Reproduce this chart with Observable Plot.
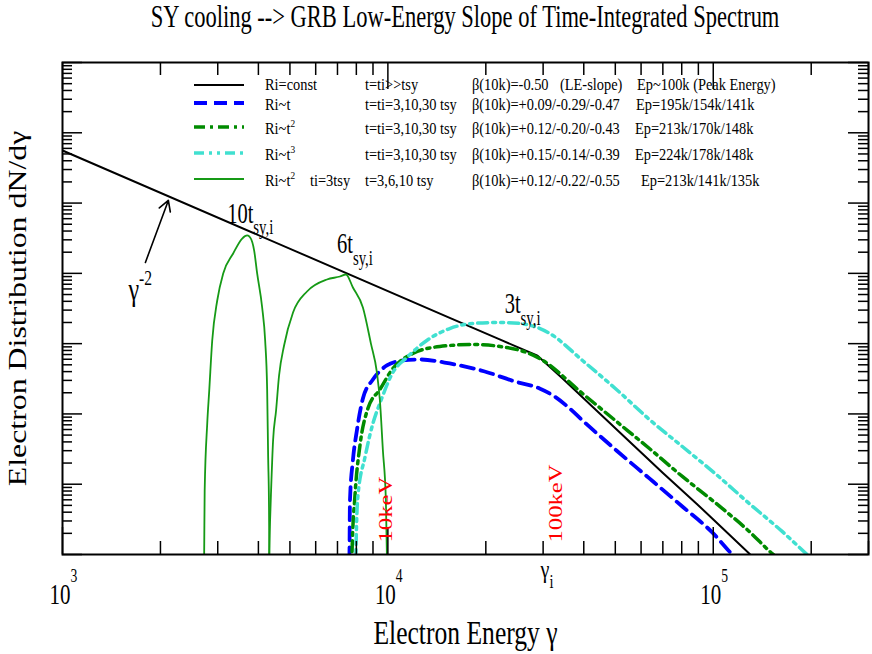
<!DOCTYPE html>
<html><head><meta charset="utf-8">
<script src="https://cdn.jsdelivr.net/npm/d3@7"></script>
<script src="https://cdn.jsdelivr.net/npm/@observablehq/plot@0.6"></script>
<style>
html,body{margin:0;padding:0;background:#fff;}
#chart{width:872px;height:654px;overflow:hidden;}
#chart svg{display:block;}
</style></head><body>
<div id="chart"></div>
<script>
// ---------- data ----------
const titleText = "SY cooling --> GRB Low-Energy Slope of Time-Integrated Spectrum";
const xLabel = "Electron Energy γ";
const yLabel = "Electron Distribution dN/dγ";

const xTicksMajor = [1e3, 1e4, 1e5];
const xTickLabels = ["10^{3}", "10^{4}", "10^{5}"];
const xTicksMinor = [2e3,3e3,4e3,5e3,6e3,7e3,8e3,9e3,2e4,3e4,4e4,5e4,6e4,7e4,8e4,9e4,2e5,3e5];
const yTicksMajor = [1e-7,1e-6,1e-5,1e-4,1e-3,1e-2,1e-1,1];
const yTicksMinor = yTicksMajor.slice(0, -1).flatMap(d => [2,3,4,5,6,7,8,9].map(k => k * d));

// Ri=const (t=ti>>tsy)
const constGamma = [1000, 5370, 15490, 22060, 28840, 34430, 43770, 55250, 69770, 88700, 99300, 129900, 148500];
const constN     = [0.056, 1.94e-3, 2.33e-4, 1.15e-4, 6.73e-5, 3.19e-5, 1.12e-5, 4.06e-6, 1.47e-6, 5.32e-7, 3.26e-7, 1.0e-7, 5.55e-8];
// Ri~t
const blueGamma = [7595, 7620, 7647, 7807, 8031, 8380, 8995, 9930, 11120, 12540, 15490, 19840, 24530, 29260, 32530, 36170, 39650, 50410, 63640, 80340, 99300, 114400, 123600];
const blueN     = [4.3e-8, 1.0e-7, 5.9e-7, 2.18e-6, 5.82e-6, 1.66e-5, 3.09e-5, 4.89e-5, 5.76e-5, 5.95e-5, 5.22e-5, 4.02e-5, 2.90e-5, 2.30e-5, 1.77e-5, 1.20e-5, 8.07e-6, 3.02e-6, 1.21e-6, 4.82e-7, 2.06e-7, 1.0e-7, 6.98e-8];
// Ri~t^2
const greenGamma = [7740, 7757, 7923, 8207, 8684, 9451, 10360, 11930, 14440, 18230, 23170, 26690, 29260, 39650, 50410, 63640, 80340, 102100, 128960, 151700, 171100];
const greenN     = [5.0e-8, 1.03e-7, 6.92e-7, 3.56e-6, 1.20e-5, 2.23e-5, 4.43e-5, 7.24e-5, 9.11e-5, 9.73e-5, 8.82e-5, 7.48e-5, 6.15e-5, 1.95e-5, 7.81e-6, 3.22e-6, 1.29e-6, 5.32e-7, 2.13e-7, 1.03e-7, 6.53e-8];
// Ri~t^3
const cyanGamma = [7960, 7976, 8091, 8501, 8995, 9517, 10360, 11440, 13170, 15490, 18230, 22060, 25410, 28240, 31400, 39650, 50410, 63640, 80340, 102100, 128960, 162800, 194200, 211400];
const cyanN     = [5.0e-8, 1.03e-7, 6.92e-7, 2.40e-6, 7.31e-6, 1.55e-5, 3.89e-5, 6.35e-5, 1.11e-4, 1.64e-4, 1.94e-4, 2.00e-4, 1.94e-4, 1.75e-4, 1.40e-4, 5.76e-5, 2.23e-5, 8.34e-6, 3.44e-6, 1.38e-6, 5.32e-7, 2.13e-7, 1.0e-7, 6.98e-8];
// Ri~t^2, ti=3tsy, t=10 tsy
const t10Gamma = [2720, 2725, 2735, 2785, 2825, 2885, 2989, 3118, 3346, 3566, 3695, 3774, 3882, 3965, 4108, 4196, 4256, 4286, 4312, 4322, 4330];
const t10N     = [5e-8, 1e-7, 8.15e-7, 7.31e-6, 2.16e-5, 1.11e-4, 4.11e-4, 9.96e-4, 1.92e-3, 3.13e-3, 3.46e-3, 3.24e-3, 2.11e-3, 9.96e-4, 3.27e-4, 1.11e-4, 2.16e-5, 2.40e-6, 4.67e-7, 1e-7, 5e-8];
// Ri~t^2, ti=3tsy, t=6 tsy
const t6Gamma = [4305, 4318, 4345, 4376, 4438, 4533, 4630, 4797, 5111, 5643, 6500, 7125, 7433, 7807, 8380, 8870, 9253, 9451, 9654, 9860, 9930, 9950];
const t6N     = [5e-8, 1e-7, 3.05e-7, 8.15e-7, 4.19e-6, 1.12e-5, 3.52e-5, 9.42e-5, 2.77e-4, 5.52e-4, 8.18e-4, 9.02e-4, 9.64e-4, 6.30e-4, 3.27e-4, 1.00e-4, 3.89e-5, 1.55e-5, 3.02e-6, 5.87e-7, 1e-7, 5e-8];

// annotations
const curveLabelText  = ["10t_{sy,i}", "6t_{sy,i}", "3t_{sy,i}"];
const curveLabelGamma = [3207, 6975, 22850];
const curveLabelN     = [5.29e-3, 1.92e-3, 2.69e-4];
const slopeLabel = "γ^{-2}";
const slopeLabelGamma = 1594, slopeLabelN = 4.11e-4;
const arrowFrom = [1798, 1.43e-3], arrowTo = [2115, 1.09e-2];
const kevText  = ["10keV", "100keV"];
const kevGamma = [10290, 34180];
const gammaILabel = "γ_{i}";
const gammaI = 29890;

// legend
const legendNames = ["Ri=const", "Ri~t", "Ri~t^{2}", "Ri~t^{3}", "Ri~t^{2}"];
const legendTi    = ["", "", "", "", "ti=3tsy"];
const legendTimes = ["t=ti>>tsy", "t=ti=3,10,30 tsy", "t=ti=3,10,30 tsy", "t=ti=3,10,30 tsy", "t=3,6,10 tsy"];
const legendBeta  = ["β(10k)=-0.50", "β(10k)=+0.09/-0.29/-0.47", "β(10k)=+0.12/-0.20/-0.43", "β(10k)=+0.15/-0.14/-0.39", "β(10k)=+0.12/-0.22/-0.55"];
const legendNote  = ["(LE-slope)", "", "", "", ""];
const legendEp    = ["Ep~100k (Peak Energy)", "Ep=195k/154k/141k", "Ep=213k/170k/148k", "Ep=224k/178k/148k", "Ep=213k/141k/135k"];

// ---------- styles / layout ----------
const serif = "'Liberation Serif', 'Times New Roman', 'DejaVu Serif', serif";
const styles = [
  {stroke: "black",   width: 2,   dash: null, curve: "linear"},
  {stroke: "#0000ff", width: 3.8, dash: "13,7", curve: "monotone-x"},
  {stroke: "#008b00", width: 3.5, dash: "11,5,3,5", curve: "monotone-x"},
  {stroke: "#40e0d0", width: 3.5, dash: "10,5,3,5,3,5", curve: "monotone-x"},
  {stroke: "#169a16", width: 1.8, dash: null, curve: "monotone-x"}
];
const TITLE_H = 40;
const W = 872, H = 654 - TITLE_H, mT = 22, mB = 100, mL = 62, mR = 4;
const FH = H - mT - mB, FW = W - mL - mR;

const rows = (g, n) => g.map((x, i) => ({g: x, n: n[i]}));
const lineMark = (g, n, s) => Plot.line(rows(g, n), {x: "g", y: "n", stroke: s.stroke, strokeWidth: s.width,
  strokeDasharray: s.dash ?? undefined, curve: s.curve, clip: true});

const plot = Plot.plot({
  width: W, height: H, marginTop: mT, marginBottom: mB, marginLeft: mL, marginRight: mR,
  style: {fontFamily: serif, background: "white", color: "black"},
  x: {type: "log", domain: [1e3, 3e5], axis: null},
  y: {type: "log", domain: [1e-7, 1], axis: null},
  marks: [
    lineMark(constGamma, constN, styles[0]),
    lineMark(blueGamma, blueN, styles[1]),
    lineMark(greenGamma, greenN, styles[2]),
    lineMark(cyanGamma, cyanN, styles[3]),
    lineMark(t10Gamma, t10N, styles[4]),
    lineMark(t6Gamma, t6N, styles[4]),
    // ticks (inward)
    Plot.ruleX(xTicksMinor, {x: d => d, insetTop: FH - 13, stroke: "black", strokeWidth: 1.5}),
    Plot.ruleX(xTicksMajor, {x: d => d, insetTop: FH - 27, stroke: "black", strokeWidth: 1.5}),
    Plot.ruleX(xTicksMinor, {x: d => d, insetBottom: FH - 13, stroke: "black", strokeWidth: 1.5}),
    Plot.ruleX(xTicksMajor, {x: d => d, insetBottom: FH - 27, stroke: "black", strokeWidth: 1.5}),
    Plot.ruleY(yTicksMinor, {y: d => d, insetRight: FW - 10, stroke: "black", strokeWidth: 1.5}),
    Plot.ruleY(yTicksMajor, {y: d => d, insetRight: FW - 20, stroke: "black", strokeWidth: 1.5}),
    Plot.ruleY(yTicksMinor, {y: d => d, insetLeft: FW - 10, stroke: "black", strokeWidth: 1.5}),
    Plot.ruleY(yTicksMajor, {y: d => d, insetLeft: FW - 20, stroke: "black", strokeWidth: 1.5}),
    Plot.frame({stroke: "black", strokeWidth: 2}),
    // tick labels
    Plot.text(xTicksMajor.map((v, i) => ({v, t: xTickLabels[i]})), {x: "v", text: "t", frameAnchor: "bottom",
      dy: 49, dx: -13, textAnchor: "start", lineAnchor: "bottom", fontSize: 21, fontFamily: serif, fill: "black"}),
    // axis titles
    Plot.text([xLabel], {frameAnchor: "bottom", dy: 89, lineAnchor: "bottom", fontSize: 25.6, fontFamily: serif, fill: "black"}),
    Plot.text([yLabel], {frameAnchor: "left", dx: -37, rotate: -90, lineAnchor: "bottom", textAnchor: "middle",
      fontSize: 24.5, fontFamily: serif, fill: "black"}),
    // annotations
    Plot.text(curveLabelText.map((t, i) => ({t, g: curveLabelGamma[i], n: curveLabelN[i]})), {x: "g", y: "n", text: "t",
      textAnchor: "start", lineAnchor: "bottom", fontSize: 20.5, fontFamily: serif, fill: "black"}),
    Plot.text([{t: slopeLabel, g: slopeLabelGamma, n: slopeLabelN}], {x: "g", y: "n", text: "t",
      textAnchor: "start", lineAnchor: "bottom", fontSize: 24, fontFamily: serif, fill: "black"}),
    Plot.arrow([{x1: arrowFrom[0], y1: arrowFrom[1], x2: arrowTo[0], y2: arrowTo[1]}],
      {x1: "x1", y1: "y1", x2: "x2", y2: "y2", stroke: "black", strokeWidth: 1.6, headLength: 11}),
    Plot.text(kevText.map((t, i) => ({t, g: kevGamma[i]})), {x: "g", text: "t", frameAnchor: "bottom", dy: -12,
      rotate: -90, textAnchor: "start", lineAnchor: "bottom", fontSize: 19, fontFamily: serif, fill: "red"}),
    Plot.text([{t: gammaILabel, g: gammaI}], {x: "g", text: "t", frameAnchor: "bottom", dy: 23, dx: -2,
      textAnchor: "start", lineAnchor: "bottom", fontSize: 20, fontFamily: serif, fill: "black"})
  ]
});

// ---------- legend (inside the frame, SVG coordinates) ----------
const legLineY = [85, 103, 127, 153, 179].map(v => v - TITLE_H);
const legBaseY = [90, 110, 134, 160, 186].map(v => v - TITLE_H);
const legEpX = [637, 636, 635, 635, 641];
const svg = d3.select(plot);
const lg = svg.append("g").attr("font-family", serif).attr("font-size", 14.4)
  .attr("fill", "black").attr("text-anchor", "start");
legendNames.forEach((name, i) => {
  const s = styles[i];
  lg.append("line").attr("x1", 194).attr("x2", 244).attr("y1", legLineY[i]).attr("y2", legLineY[i])
    .attr("stroke", s.stroke).attr("stroke-width", s.width).attr("stroke-dasharray", s.dash);
  const put = (x, t) => { if (t) lg.append("text").attr("transform", `translate(${x},${legBaseY[i]})`).text(t); };
  put(265, name); put(310, legendTi[i]); put(365, legendTimes[i]); put(472, legendBeta[i]);
  put(560, legendNote[i]); put(legEpX[i], legendEp[i]);
});

// ---------- rich text (super/subscripts) and vertical stretch ----------
const SUP_SHIFT = {21: 0.72, 14.4: 0.38};
const STRETCH = {21: 1.4, 20.5: 1.4, 14.4: 1.2};
const fsOf = el => { const h = el.closest("[font-size]"); return h ? parseFloat(h.getAttribute("font-size")) : 12; };
svg.selectAll("text").each(function () {
  const s = this.textContent;
  if (!/[\^_]\{/.test(s)) return;
  const fs = fsOf(this);
  const parts = []; const re = /([\^_])\{([^}]*)\}/g; let last = 0, m;
  while ((m = re.exec(s))) { if (m.index > last) parts.push({t: s.slice(last, m.index)}); parts.push({t: m[2], k: m[1]}); last = re.lastIndex; }
  if (last < s.length) parts.push({t: s.slice(last)});
  while (this.firstChild) this.removeChild(this.firstChild);
  let shift = 0;
  for (const p of parts) {
    const ts = document.createElementNS("http://www.w3.org/2000/svg", "tspan");
    let target = 0, size = fs;
    if (p.k === "^") { target = -(SUP_SHIFT[fs] ?? 0.5) * fs; size = 0.65 * fs; }
    else if (p.k === "_") { target = 0.4 * fs; size = 0.72 * fs; }
    ts.setAttribute("dy", target - shift); shift = target;
    ts.setAttribute("font-size", size);
    ts.textContent = p.t;
    this.appendChild(ts);
  }
});
svg.selectAll("text").each(function () {
  const S = STRETCH[fsOf(this)] ?? 1.3;
  const t = this.getAttribute("transform") || "";
  this.setAttribute("transform", t + (/rotate\(/.test(t) ? ` scale(${S},1)` : ` scale(1,${S})`));
});

// ---------- title above the plot ----------
const chart = d3.select("#chart");
const ts = chart.append("svg").attr("width", W).attr("height", TITLE_H);
ts.append("text").attr("transform", "translate(465,27) scale(1,1.38)").attr("text-anchor", "middle")
  .attr("font-family", serif).attr("font-size", 22.5).attr("fill", "black").text(titleText);
chart.node().appendChild(plot);
</script></body></html>
